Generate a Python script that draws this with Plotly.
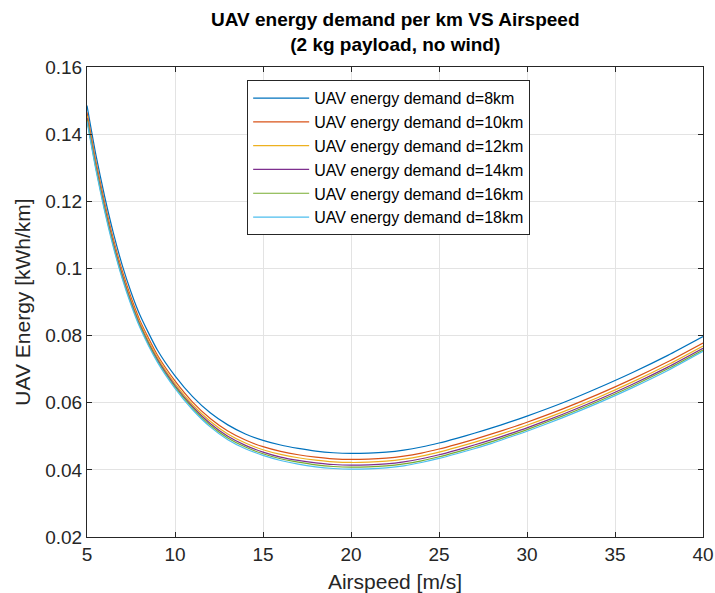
import plotly.graph_objects as go

airspeed = [5, 5.5, 6, 6.5, 7, 7.5, 8, 9, 10, 11, 12, 13, 14, 15, 16, 17, 18, 19, 20,
            21, 22, 23, 24, 25, 26, 27, 28, 29, 30, 32, 34, 36, 38, 40]

e_d8 = [0.1485, 0.1340, 0.1215, 0.1105, 0.1010, 0.0930, 0.0862, 0.0757, 0.0680, 0.0618,
        0.0570, 0.0534, 0.0507, 0.0488, 0.0474, 0.0464, 0.0456, 0.0451, 0.0449, 0.0450,
        0.0453, 0.0459, 0.0468, 0.0480, 0.0494, 0.0509, 0.0525, 0.0542, 0.0560, 0.0599,
        0.0643, 0.0690, 0.0741, 0.0797]
e_d10 = [0.1465, 0.1320, 0.1196, 0.1087, 0.0993, 0.0914, 0.0846, 0.0742, 0.0665, 0.0602,
         0.0553, 0.0516, 0.0489, 0.0469, 0.0455, 0.0445, 0.0438, 0.0433, 0.0431, 0.0432,
         0.0435, 0.0441, 0.0450, 0.0462, 0.0476, 0.0491, 0.0507, 0.0524, 0.0542, 0.0581,
         0.0624, 0.0671, 0.0722, 0.0778]
e_d12 = [0.1455, 0.1311, 0.1187, 0.1079, 0.0985, 0.0906, 0.0839, 0.0735, 0.0657, 0.0594,
         0.0545, 0.0507, 0.0480, 0.0460, 0.0446, 0.0436, 0.0429, 0.0424, 0.0422, 0.0423,
         0.0426, 0.0432, 0.0441, 0.0453, 0.0467, 0.0482, 0.0498, 0.0515, 0.0533, 0.0572,
         0.0615, 0.0662, 0.0713, 0.0769]
e_d14 = [0.1448, 0.1305, 0.1181, 0.1073, 0.0979, 0.0900, 0.0833, 0.0729, 0.0651, 0.0588,
         0.0538, 0.0500, 0.0473, 0.0453, 0.0438, 0.0428, 0.0421, 0.0416, 0.0414, 0.0415,
         0.0418, 0.0424, 0.0433, 0.0445, 0.0459, 0.0474, 0.0490, 0.0507, 0.0525, 0.0565,
         0.0608, 0.0655, 0.0706, 0.0762]
e_d16 = [0.1443, 0.1300, 0.1176, 0.1068, 0.0974, 0.0896, 0.0829, 0.0725, 0.0647, 0.0584,
         0.0533, 0.0495, 0.0468, 0.0448, 0.0433, 0.0423, 0.0415, 0.0410, 0.0408, 0.0409,
         0.0412, 0.0418, 0.0427, 0.0439, 0.0453, 0.0468, 0.0484, 0.0502, 0.0520, 0.0560,
         0.0603, 0.0650, 0.0701, 0.0757]
e_d18 = [0.1438, 0.1295, 0.1171, 0.1063, 0.0970, 0.0892, 0.0825, 0.0721, 0.0643, 0.0579,
         0.0528, 0.0490, 0.0463, 0.0443, 0.0428, 0.0417, 0.0409, 0.0404, 0.0402, 0.0403,
         0.0406, 0.0412, 0.0422, 0.0434, 0.0448, 0.0463, 0.0479, 0.0497, 0.0515, 0.0555,
         0.0598, 0.0645, 0.0696, 0.0753]

series_names = ["UAV energy demand d=8km", "UAV energy demand d=10km",
                "UAV energy demand d=12km", "UAV energy demand d=14km",
                "UAV energy demand d=16km", "UAV energy demand d=18km"]
series_values = [e_d8, e_d10, e_d12, e_d14, e_d16, e_d18]
colors = ["#0072BD", "#D95319", "#EDB120", "#7E2F8E", "#77AC30", "#4DBEEE"]

x_ticks = [5, 10, 15, 20, 25, 30, 35, 40]
y_ticks = [0.02, 0.04, 0.06, 0.08, 0.1, 0.12, 0.14, 0.16]
y_tick_labels = ["0.02", "0.04", "0.06", "0.08", "0.1", "0.12", "0.14", "0.16"]

FONT = "Liberation Sans, Arial, Helvetica, sans-serif"
DARK = "#262626"

fig = go.Figure()
for name, vals, col in zip(series_names, series_values, colors):
    fig.add_trace(go.Scatter(x=airspeed, y=vals, mode="lines", name=name,
                             line=dict(color=col, width=1.2, shape="spline", smoothing=0.6)))

axis_common = dict(showline=True, mirror="ticks", linecolor=DARK, linewidth=1,
                   ticks="inside", ticklen=5, tickcolor=DARK,
                   showgrid=True, gridcolor="#e3e3e3", gridwidth=1,
                   zeroline=False, automargin=False,
                   tickfont=dict(family=FONT, size=19, color=DARK))

fig.update_layout(
    width=715, height=593,
    margin=dict(l=87, r=12, t=67, b=56),
    paper_bgcolor="white", plot_bgcolor="white",
    xaxis=dict(range=[5, 40], tickvals=x_ticks,
               title=dict(text="Airspeed [m/s]", standoff=10,
                          font=dict(family=FONT, size=21, color=DARK)),
               **axis_common),
    yaxis=dict(range=[0.02, 0.16], tickvals=y_ticks, ticktext=y_tick_labels,
               title=dict(text="UAV Energy [kWh/km]", standoff=8,
                          font=dict(family=FONT, size=21, color=DARK)),
               **axis_common),
    legend=dict(x=0.26, y=0.972, xanchor="left", yanchor="top",
                bgcolor="white", bordercolor=DARK, borderwidth=1,
                font=dict(family=FONT, size=16, color="black"),
                itemwidth=56, tracegroupgap=0),
    showlegend=True,
    annotations=[dict(text="<b>UAV energy demand per km VS Airspeed<br>(2 kg payload, no wind)</b>",
                      xref="paper", yref="paper", x=0.5, y=1.022,
                      xanchor="center", yanchor="bottom", showarrow=False,
                      font=dict(family=FONT, size=19, color="black"))],
)

fig.write_html("out.html")
